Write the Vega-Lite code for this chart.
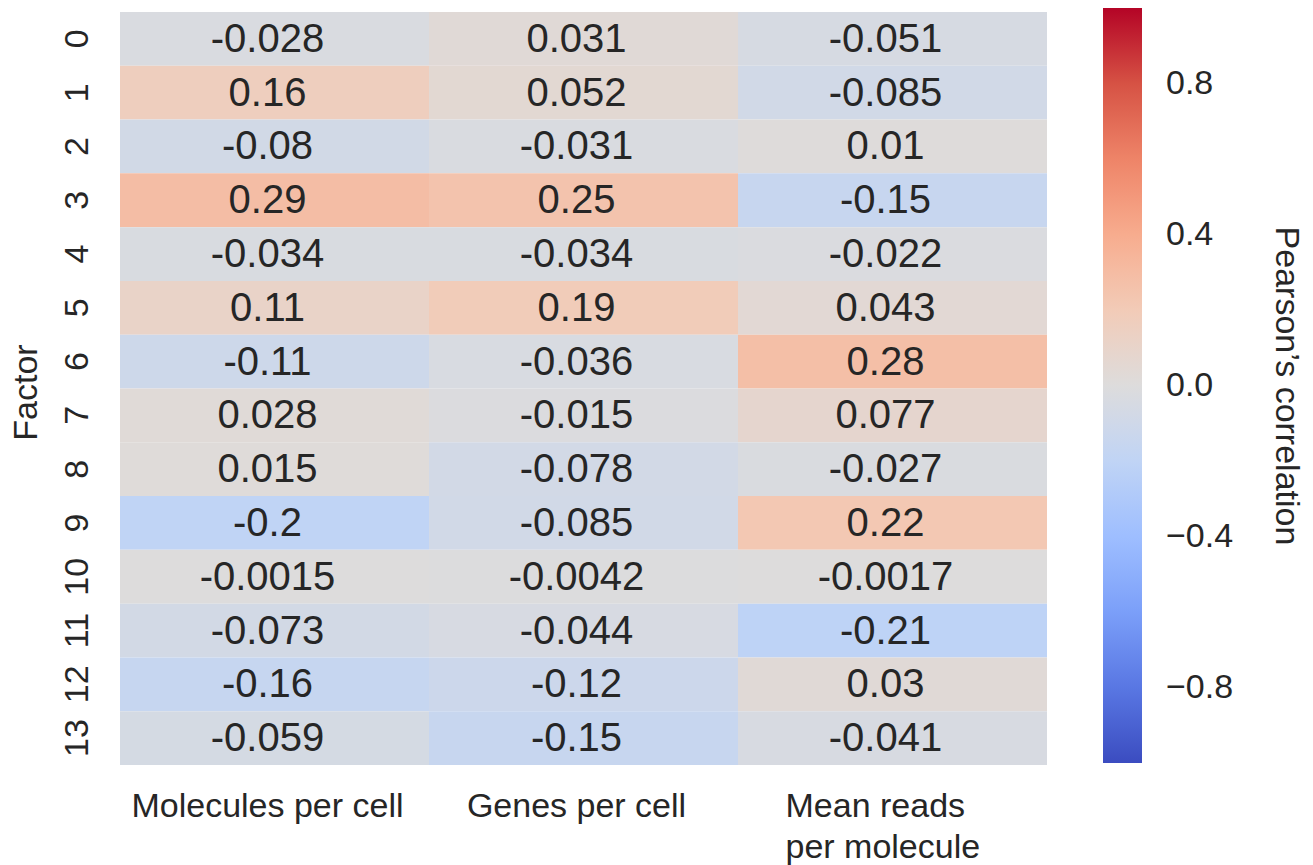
{
  "$schema": "https://vega.github.io/schema/vega-lite/v6.json",
  "width": 927,
  "height": 753,
  "autosize": {"type": "none"},
  "padding": {"left": 120, "top": 12, "right": 266, "bottom": 100},
  "background": "white",
  "data": {
    "values": [
      {"factor": "0", "metric": "Molecules per cell", "r": -0.028},
      {"factor": "0", "metric": "Genes per cell", "r": 0.031},
      {"factor": "0", "metric": "Mean reads per molecule", "r": -0.051},
      {"factor": "1", "metric": "Molecules per cell", "r": 0.16},
      {"factor": "1", "metric": "Genes per cell", "r": 0.052},
      {"factor": "1", "metric": "Mean reads per molecule", "r": -0.085},
      {"factor": "2", "metric": "Molecules per cell", "r": -0.08},
      {"factor": "2", "metric": "Genes per cell", "r": -0.031},
      {"factor": "2", "metric": "Mean reads per molecule", "r": 0.01},
      {"factor": "3", "metric": "Molecules per cell", "r": 0.29},
      {"factor": "3", "metric": "Genes per cell", "r": 0.25},
      {"factor": "3", "metric": "Mean reads per molecule", "r": -0.15},
      {"factor": "4", "metric": "Molecules per cell", "r": -0.034},
      {"factor": "4", "metric": "Genes per cell", "r": -0.034},
      {"factor": "4", "metric": "Mean reads per molecule", "r": -0.022},
      {"factor": "5", "metric": "Molecules per cell", "r": 0.11},
      {"factor": "5", "metric": "Genes per cell", "r": 0.19},
      {"factor": "5", "metric": "Mean reads per molecule", "r": 0.043},
      {"factor": "6", "metric": "Molecules per cell", "r": -0.11},
      {"factor": "6", "metric": "Genes per cell", "r": -0.036},
      {"factor": "6", "metric": "Mean reads per molecule", "r": 0.28},
      {"factor": "7", "metric": "Molecules per cell", "r": 0.028},
      {"factor": "7", "metric": "Genes per cell", "r": -0.015},
      {"factor": "7", "metric": "Mean reads per molecule", "r": 0.077},
      {"factor": "8", "metric": "Molecules per cell", "r": 0.015},
      {"factor": "8", "metric": "Genes per cell", "r": -0.078},
      {"factor": "8", "metric": "Mean reads per molecule", "r": -0.027},
      {"factor": "9", "metric": "Molecules per cell", "r": -0.2},
      {"factor": "9", "metric": "Genes per cell", "r": -0.085},
      {"factor": "9", "metric": "Mean reads per molecule", "r": 0.22},
      {"factor": "10", "metric": "Molecules per cell", "r": -0.0015},
      {"factor": "10", "metric": "Genes per cell", "r": -0.0042},
      {"factor": "10", "metric": "Mean reads per molecule", "r": -0.0017},
      {"factor": "11", "metric": "Molecules per cell", "r": -0.073},
      {"factor": "11", "metric": "Genes per cell", "r": -0.044},
      {"factor": "11", "metric": "Mean reads per molecule", "r": -0.21},
      {"factor": "12", "metric": "Molecules per cell", "r": -0.16},
      {"factor": "12", "metric": "Genes per cell", "r": -0.12},
      {"factor": "12", "metric": "Mean reads per molecule", "r": 0.03},
      {"factor": "13", "metric": "Molecules per cell", "r": -0.059},
      {"factor": "13", "metric": "Genes per cell", "r": -0.15},
      {"factor": "13", "metric": "Mean reads per molecule", "r": -0.041}
    ]
  },
  "encoding": {
    "x": {
      "field": "metric",
      "type": "nominal",
      "sort": ["Molecules per cell", "Genes per cell", "Mean reads per molecule"],
      "scale": {"paddingInner": 0, "paddingOuter": 0},
      "axis": {
        "title": null,
        "orient": "bottom",
        "ticks": false,
        "domain": false,
        "labelAngle": 0,
        "labelAlign": {
          "condition": {"test": "datum.value === 'Mean reads per molecule'", "value": "left"},
          "value": "center"
        },
        "labelOffset": {
          "condition": {"test": "datum.value === 'Mean reads per molecule'", "value": -107},
          "value": -7
        },
        "labelBaseline": "top",
        "labelPadding": 24,
        "labelLineHeight": 41,
        "labelFontSize": 34,
        "labelLimit": 400,
        "labelExpr": "datum.value === 'Mean reads per molecule' ? ['Mean reads', 'per molecule'] : datum.label"
      }
    },
    "y": {
      "field": "factor",
      "type": "ordinal",
      "sort": ["0", "1", "2", "3", "4", "5", "6", "7", "8", "9", "10", "11", "12", "13"],
      "scale": {"paddingInner": 0, "paddingOuter": 0},
      "axis": {
        "title": "Factor",
        "ticks": false,
        "domain": false,
        "labelAngle": -90,
        "labelAlign": "center",
        "labelBaseline": "alphabetic",
        "labelPadding": 33,
        "labelFontSize": 34,
        "titleFontSize": 34,
        "titleFontWeight": "normal",
        "titleAngle": -90,
        "titleAlign": "center",
        "titleBaseline": "alphabetic",
        "titleX": -84,
        "titleY": 380
      }
    }
  },
  "layer": [
    {
      "mark": {"type": "rect", "strokeWidth": 0},
      "encoding": {
        "color": {
          "field": "r",
          "type": "quantitative",
          "scale": {
            "domain": [-1, -0.8, -0.6, -0.4, -0.2, 0, 0.2, 0.4, 0.6, 0.8, 1],
            "range": ["#3b4cc0", "#5977e3", "#7b9ff9", "#9ebeff", "#c0d4f5", "#dddcdc", "#f2cbb7", "#f7ac8e", "#ee8468", "#d65244", "#b40426"],
            "interpolate": "rgb"
          },
          "legend": {
            "type": "gradient",
            "orient": "none",
            "direction": "vertical",
            "legendX": 983,
            "legendY": -4,
            "gradientLength": 755,
            "gradientThickness": 39,
            "gradientStrokeWidth": 0,
            "values": [-0.8, -0.4, 0, 0.4, 0.8],
            "format": ".1f",
            "labelExpr": "replace(datum.label, '-', '−')",
            "labelOffset": 24,
            "labelFontSize": 34,
            "labelBaseline": "middle",
            "labelOverlap": false,
            "title": "Pearson’s correlation",
            "titleOrient": "right",
            "titleAngle": 90,
            "titleFontSize": 34,
            "titleFontWeight": "normal",
            "titleAnchor": "middle",
            "titlePadding": 36,
            "titleLimit": 800
          }
        }
      }
    },
    {
      "mark": {"type": "text", "fontSize": 40, "color": "#262626", "dx": -7, "dy": 1},
      "encoding": {
        "text": {"field": "r", "type": "quantitative", "format": ".2~g"}
      }
    }
  ],
  "config": {
    "font": "Liberation Sans",
    "view": {"stroke": null},
    "locale": {
      "number": {"decimal": ".", "thousands": ",", "grouping": [3], "currency": ["$", ""], "minus": "-"}
    },
    "axis": {"labelColor": "#262626", "titleColor": "#262626", "grid": false},
    "legend": {"labelColor": "#262626", "titleColor": "#262626"}
  }
}
